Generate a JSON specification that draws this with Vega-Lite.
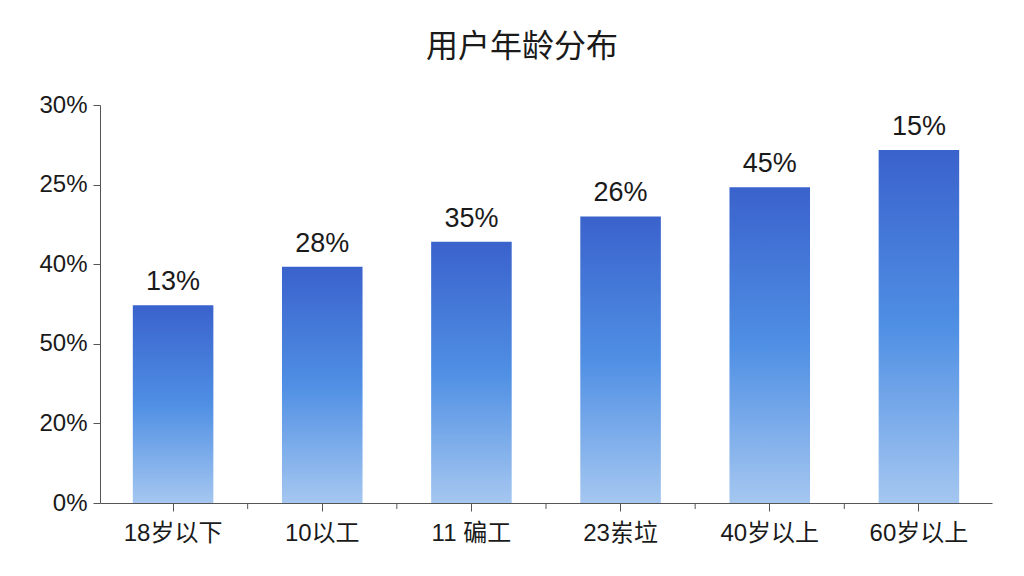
{
  "$schema": "https://vega.github.io/schema/vega-lite/v6.json",
  "autosize": {"type": "none"},
  "width": 892,
  "height": 398,
  "padding": {"left": 100, "top": 105, "right": 32, "bottom": 73},
  "background": "white",
  "title": {
    "text": "用户年龄分布",
    "fontSize": 32,
    "fontWeight": "normal",
    "font": "Liberation Sans, Noto Sans CJK SC",
    "color": "#1a1a1a",
    "anchor": "middle",
    "dx": -24,
    "offset": 29
  },
  "data": {
    "values": [
      {"group": "18岁以下", "value": 14.9, "label": "13%"},
      {"group": "10以工", "value": 17.8, "label": "28%"},
      {"group": "11 碥工", "value": 19.7, "label": "35%"},
      {"group": "23岽垃", "value": 21.6, "label": "26%"},
      {"group": "40岁以上", "value": 23.8, "label": "45%"},
      {"group": "60岁以上", "value": 26.6, "label": "15%"}
    ]
  },
  "config": {
    "view": {"stroke": null},
    "axis": {
      "labelFont": "Liberation Sans, Noto Sans CJK SC",
      "labelColor": "#1a1a1a",
      "domainColor": "#555555",
      "tickColor": "#555555",
      "grid": false,
      "title": null
    }
  },
  "encoding": {
    "x": {
      "field": "group",
      "type": "nominal",
      "sort": null,
      "scale": {"paddingInner": 0.46, "paddingOuter": 0.22},
      "axis": {"labelAngle": 0, "labelFontSize": 24, "tickSize": 8, "labelPadding": 10}
    }
  },
  "layer": [
    {
      "mark": {
        "type": "bar",
        "color": {
          "gradient": "linear",
          "x1": 0, "y1": 0, "x2": 0, "y2": 1,
          "stops": [
            {"offset": 0, "color": "#3a62cc"},
            {"offset": 0.5, "color": "#4f8fe4"},
            {"offset": 1, "color": "#a5c7f0"}
          ]
        }
      },
      "encoding": {
        "y": {
          "field": "value",
          "type": "quantitative",
          "scale": {"domain": [0, 30]},
          "axis": {
            "values": [0, 6, 12, 18, 24, 30],
            "labelExpr": "datum.value == 0 ? '0%' : datum.value == 6 ? '20%' : datum.value == 12 ? '50%' : datum.value == 18 ? '40%' : datum.value == 24 ? '25%' : '30%'",
            "labelFontSize": 24,
            "tickSize": 7,
            "labelPadding": 6
          }
        }
      }
    },
    {
      "transform": [{"filter": "datum.group != '18岁以下'"}],
      "mark": {"type": "rule", "color": "#555555", "strokeWidth": 1},
      "encoding": {
        "x": {"field": "group", "type": "nominal", "sort": null, "bandPosition": -0.426},
        "y": {"datum": 0},
        "y2": {"datum": -0.45}
      }
    },
    {
      "mark": {
        "type": "text",
        "baseline": "bottom",
        "dy": -9,
        "fontSize": 27,
        "font": "Liberation Sans, Noto Sans CJK SC",
        "color": "#1a1a1a"
      },
      "encoding": {
        "y": {"field": "value", "type": "quantitative"},
        "text": {"field": "label"}
      }
    }
  ]
}
